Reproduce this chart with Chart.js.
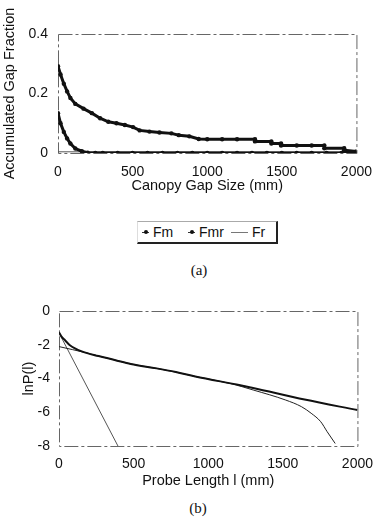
<!DOCTYPE html>
<html>
<head>
<meta charset="utf-8">
<script src="https://cdn.jsdelivr.net/npm/chart.js@4.4.0/dist/chart.umd.min.js"></script>
<style>
  body { margin: 0; background: #fff; width: 383px; height: 518px; position: relative; overflow: hidden; font-family: "Liberation Sans", Arial, sans-serif; }
  canvas { position: absolute; left: 0; }
  #chartA { top: 0; }
  #chartB { top: 290px; }
  .cap { position: absolute; font-family: "Liberation Serif", "Times New Roman", serif; font-size: 15px; color: #111; transform: translateX(-50%); }
  #legend { position: absolute; left: 137px; top: 221px; width: 141px; height: 23px; box-sizing: border-box;
    border-top: 1px solid #aaa; border-left: 1px solid #ddd; border-right: 2px solid #222; border-bottom: 2px solid #222;
    font-size: 14px; color: #111; line-height: 21px; white-space: nowrap; }
  #legend span { position: absolute; top: 0; }
  .mk { position: absolute; top: 10px; height: 1px; background: #333; }
  .dot { position: absolute; top: 8px; width: 4px; height: 4px; border-radius: 2px; background: #111; }
</style>
</head>
<body>
<canvas id="chartA" width="383" height="200"></canvas>
<div id="legend">
  <div class="mk" style="left:4px;width:7px"></div><div class="dot" style="left:6px"></div>
  <span style="left:15px">Fm</span>
  <div class="mk" style="left:50px;width:7px"></div><div class="dot" style="left:52px"></div>
  <span style="left:61px">Fmr</span>
  <div class="mk" style="left:93px;width:17px;background:#777"></div>
  <span style="left:114px">Fr</span>
</div>
<div class="cap" style="left:199px;top:262px">(a)</div>
<canvas id="chartB" width="383" height="200"></canvas>
<div class="cap" style="left:198px;top:500px">(b)</div>
<script>
// (a) accumulated gap fraction vs canopy gap size (mm)
const fmX = [0, 17, 39, 61, 83, 116, 171, 227, 282, 337, 392, 448, 503, 547, 613, 680, 760, 810, 880, 943, 1000, 1100, 1200, 1320, 1320, 1430, 1430, 1495, 1495, 1600, 1700, 1785, 1785, 1918, 1918, 2000]
const fmY = [0.292, 0.264, 0.233, 0.207, 0.185, 0.165, 0.149, 0.134, 0.117, 0.105, 0.1, 0.094, 0.087, 0.076, 0.072, 0.069, 0.066, 0.06, 0.056, 0.047, 0.046, 0.046, 0.046, 0.046, 0.039, 0.039, 0.032, 0.032, 0.025, 0.025, 0.025, 0.025, 0.016, 0.016, 0.009, 0.005]
const fmrX = [0, 17, 39, 61, 83, 116, 160, 199, 250, 300, 400, 500, 600, 700, 800, 900, 1000, 1100, 1200, 1300, 1400, 1500, 1600, 1700, 1800, 1900, 2000]
const fmrY = [0.134, 0.1, 0.071, 0.049, 0.032, 0.015, 0.006, 0.001, 0, 0, 0, 0, 0, 0, 0, 0, 0, 0, 0, 0, 0, 0, 0, 0, 0, 0, 0]
const frX = [0, 2000]
const frY = [0.004, 0.003]

// (b) lnP(l) vs probe length (mm)
const lnAX = [0, 17, 39, 71, 157, 265, 373, 481, 654, 783, 913, 1215, 1301, 1646, 2000]
const lnAY = [-1.26, -1.52, -1.72, -2.01, -2.41, -2.67, -2.9, -3.14, -3.4, -3.62, -3.88, -4.4, -4.56, -5.25, -5.87]
const lnBX = [0, 179, 265, 373, 481, 654, 783, 913, 1150, 1301, 1517, 1625, 1690, 1754, 1797, 1851]
const lnBY = [-2.11, -2.47, -2.67, -2.9, -3.14, -3.4, -3.62, -3.88, -4.3, -4.68, -5.27, -5.67, -6.06, -6.56, -7.15, -7.85]
const lnCX = [0, 395]
const lnCY = [-1.3, -8]

function pts(xs, ys) { return xs.map((x, i) => ({x: x, y: ys[i]})) }

const tickFont = {family: '"Liberation Sans", Arial, sans-serif', size: 14}
const titleFont = {family: '"Liberation Sans", Arial, sans-serif', size: 14.5}

// thin dash-dot frame round the plot area
const frame = {
  id: 'frame',
  beforeDatasetsDraw(chart) {
    const a = chart.chartArea, ctx = chart.ctx
    ctx.save()
    ctx.strokeStyle = '#666'
    ctx.lineWidth = 1
    ctx.setLineDash([14, 3, 3, 3])
    ctx.strokeRect(a.left + 0.5, a.top + 0.5, a.right - a.left, a.bottom - a.top)
    ctx.restore()
  }
}

function axes(opt) {
  return {
    x: {
      type: 'linear', min: 0, max: 2000,
      grid: {display: false, drawTicks: false}, border: {display: false},
      ticks: {stepSize: 500, font: tickFont, color: '#111', padding: opt.xpad, maxRotation: 0, callback: v => String(v)},
      title: {display: true, text: opt.xtitle, font: titleFont, color: '#111', padding: {top: 0, bottom: opt.xtb}},
      afterFit(s) { s.height = opt.xh }
    },
    y: {
      min: opt.ymin, max: opt.ymax,
      grid: {display: false, drawTicks: false}, border: {display: false},
      ticks: {stepSize: opt.ystep, font: tickFont, color: '#111', padding: opt.ypad, callback: v => String(Math.round(v * 10) / 10)},
      title: {display: true, text: opt.ytitle, font: titleFont, color: '#111', padding: {top: opt.ytp, bottom: 0}},
      afterFit(s) { s.width = opt.yw }
    }
  }
}

new Chart(document.getElementById('chartA'), {
  type: 'line',
  data: {
    datasets: [
      {label: 'Fm', data: pts(fmX, fmY), borderColor: '#111', backgroundColor: '#111', borderWidth: 3, pointRadius: 2.2, pointBorderWidth: 0},
      {label: 'Fmr', data: pts(fmrX, fmrY), borderColor: '#111', backgroundColor: '#111', borderWidth: 3, pointRadius: 2.2, pointBorderWidth: 0},
      {label: 'Fr', data: pts(frX, frY), borderColor: '#555', borderWidth: 1, pointRadius: 0}
    ]
  },
  options: {
    responsive: false, animation: false,
    layout: {padding: {top: 34, right: 24, left: 0, bottom: 0}},
    plugins: {legend: {display: false}, tooltip: {enabled: false}},
    scales: axes({xpad: 11, xtitle: 'Canopy Gap Size (mm)', xtb: 5, xh: 47,
      ymin: 0, ymax: 0.4, ystep: 0.2, ypad: 10, ytitle: 'Accumulated Gap Fraction', ytp: 1, yw: 58})
  },
  plugins: [frame]
})

new Chart(document.getElementById('chartB'), {
  type: 'line',
  data: {
    datasets: [
      {label: 'A', data: pts(lnAX, lnAY), borderColor: '#111', borderWidth: 2, pointRadius: 0, cubicInterpolationMode: 'monotone'},
      {label: 'B', data: pts(lnBX, lnBY), borderColor: '#222', borderWidth: 1, pointRadius: 0, cubicInterpolationMode: 'monotone'},
      {label: 'C', data: pts(lnCX, lnCY), borderColor: '#555', borderWidth: 1, pointRadius: 0}
    ]
  },
  options: {
    responsive: false, animation: false,
    layout: {padding: {top: 21, right: 15, left: 0, bottom: 0}},
    plugins: {legend: {display: false}, tooltip: {enabled: false}},
    scales: axes({xpad: 10, xtitle: 'Probe Length l (mm)', xtb: 0, xh: 44,
      ymin: -8, ymax: 0, ystep: 2, ypad: 9, ytitle: 'lnP(l)', ytp: 20, yw: 59})
  },
  plugins: [frame]
})
</script>
</body>
</html>
